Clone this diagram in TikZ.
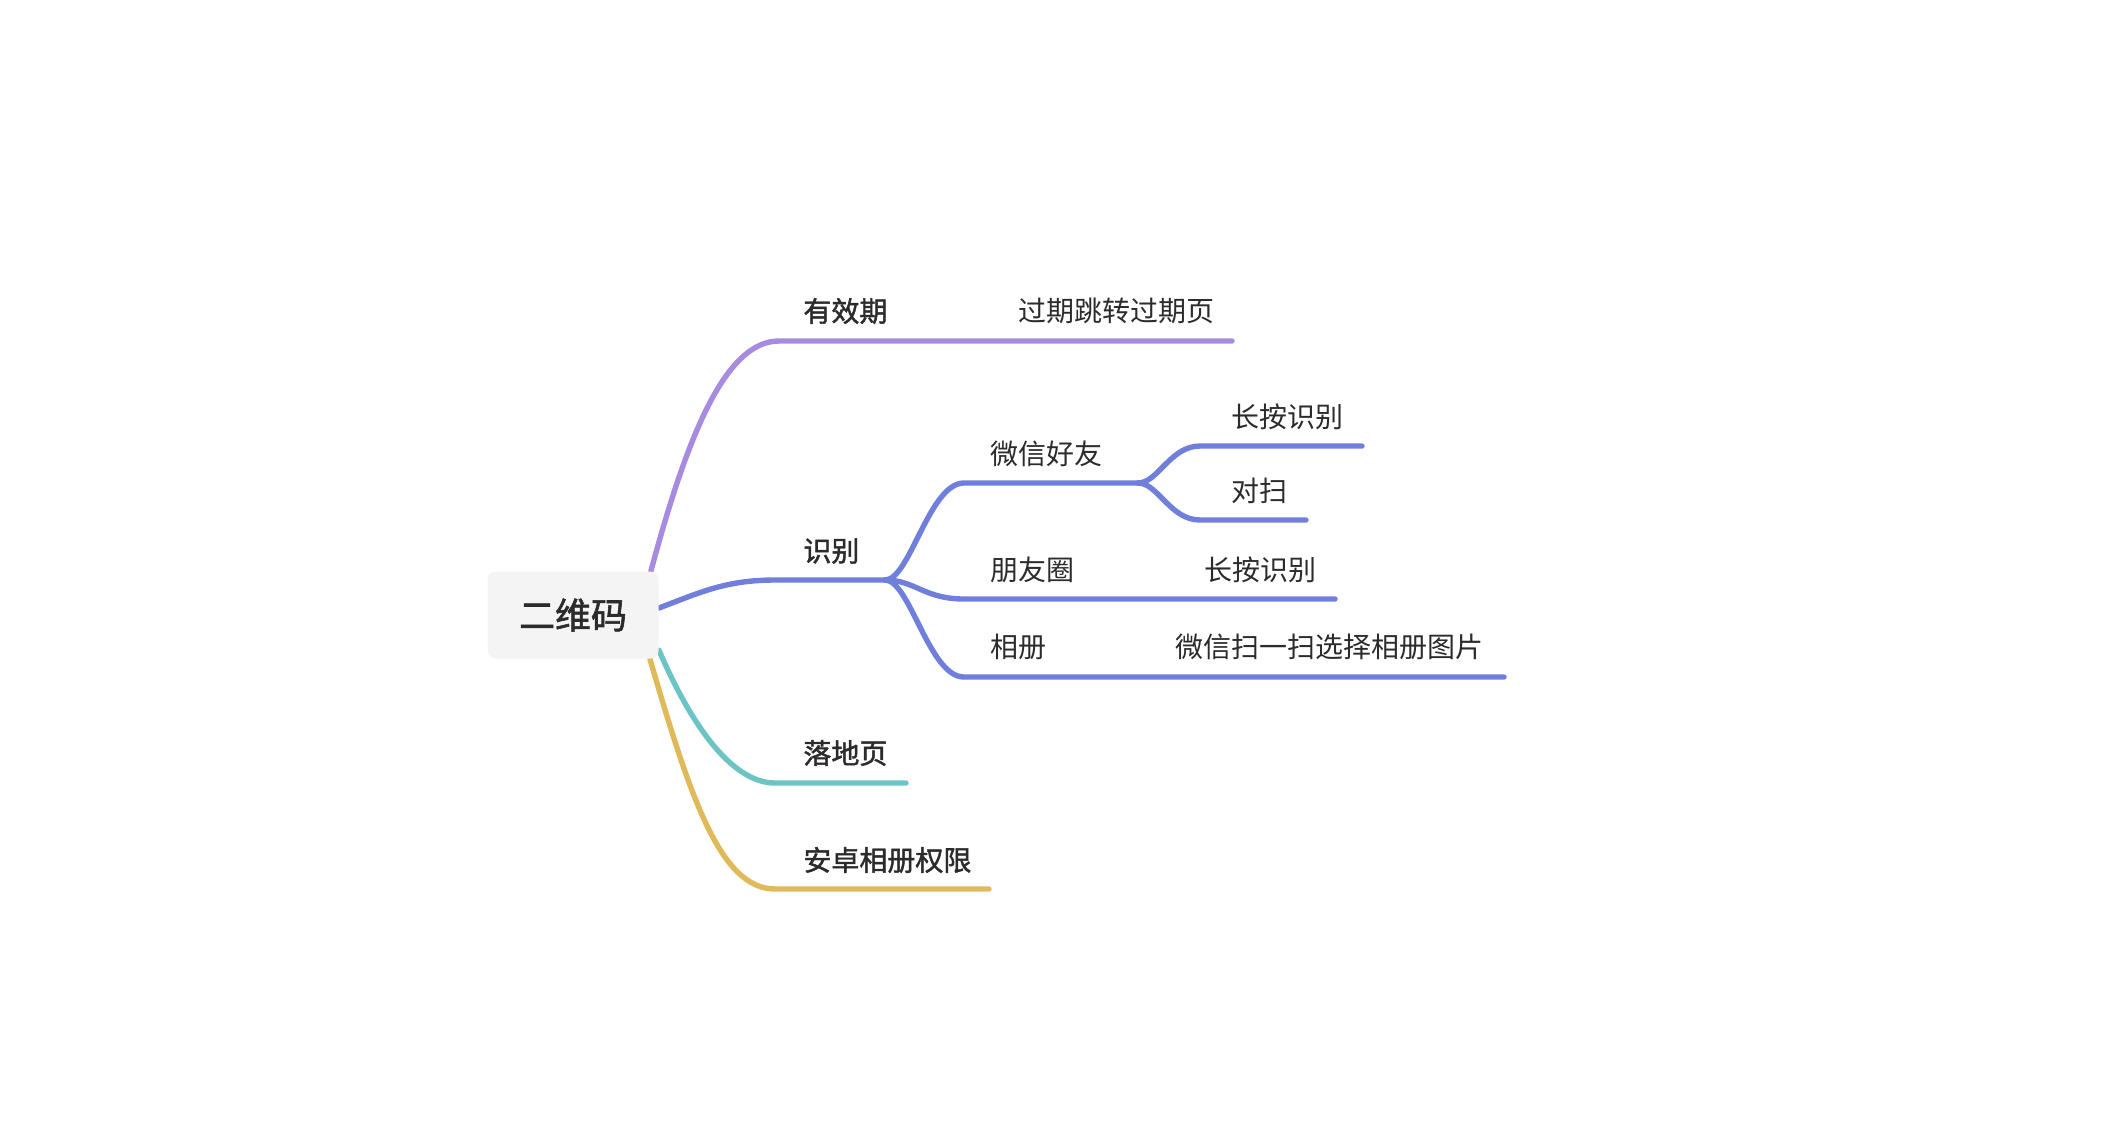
\documentclass[tikz,border=0pt]{standalone}
\usepackage{fontspec}
\setmainfont{Noto Sans CJK SC}
\newfontfamily\medfont{Noto Sans CJK SC}[FakeBold=1.6]
\usepackage{xcolor}
\usepackage{tikz}
\usetikzlibrary{backgrounds}

\definecolor{ink}{HTML}{2B2B2B}
\definecolor{rootgray}{HTML}{F4F4F4}
\definecolor{lnpurple}{HTML}{A78BE0}
\definecolor{lnblue}{HTML}{6F7FDB}
\definecolor{lnteal}{HTML}{6CC4C4}
\definecolor{lngold}{HTML}{E0B95A}

\begin{document}
\begin{tikzpicture}[
  x=0.5pt, y=-0.5pt,
  root/.style={fill=rootgray, rounded corners=4pt, inner sep=0pt, minimum width=85.5pt, minimum height=43.5pt, text=ink, font=\medfont\fontsize{18pt}{20pt}\selectfont},
  topic/.style={anchor=west, inner sep=0pt, text=ink, font=\medfont\fontsize{14pt}{16pt}\selectfont},
  leaf/.style={anchor=west, inner sep=0pt, text=ink, font=\fontsize{14pt}{16pt}\selectfont},
  branch/.style={line width=2.7pt, line cap=round}
]
\useasboundingbox (0,0) rectangle (2114,1142);

\node[root] (qr) at (573,615) {二维码};

\coordinate (valid) at (779,341);
\coordinate (validEnd) at (1232,341);
\coordinate (recog) at (775,580);
\coordinate (fork) at (885,580);
\coordinate (friend) at (964,483);
\coordinate (friendEnd) at (1138,483);
\coordinate (press) at (1200,446);
\coordinate (pressEnd) at (1362,446);
\coordinate (face) at (1200,520);
\coordinate (faceEnd) at (1306,520);
\coordinate (moments) at (964,599);
\coordinate (momentsEnd) at (1335,599);
\coordinate (album) at (964,677);
\coordinate (albumEnd) at (1504,677);
\coordinate (landing) at (775,783);
\coordinate (landingEnd) at (906,783);
\coordinate (perm) at (775,889);
\coordinate (permEnd) at (989,889);

\node[topic] (validT) at (803,311) {有效期};
\node[leaf] (expire) at (1018,311) {过期跳转过期页};
\node[topic] (recogT) at (803,551) {识别};
\node[leaf] (friendT) at (990,454) {微信好友};
\node[leaf] (pressT) at (1231,417) {长按识别};
\node[leaf] (faceT) at (1231,491) {对扫};
\node[leaf] (momentsT) at (990,570) {朋友圈};
\node[leaf] (pressM) at (1204,570) {长按识别};
\node[leaf] (albumT) at (990,647) {相册};
\node[leaf] (albumPick) at (1175,647) {微信扫一扫选择相册图片};
\node[topic] (landingT) at (803,753) {落地页};
\node[topic] (permT) at (803,860) {安卓相册权限};

\begin{scope}[on background layer]
\draw[branch, lnpurple] ([xshift=-4pt]qr.north east) .. controls +(35,-130) and +(-55,0) .. (valid) -- (validEnd);
\draw[branch, lnblue] ([yshift=3.5pt]qr.east) .. controls +(40,-15) and +(-50,0) .. (recog) -- (fork);
\draw[branch, lnblue] (fork) .. controls +(25,0) and +(-35,0) .. (friend) -- (friendEnd);
\draw[branch, lnblue] (friendEnd) .. controls +(20,0) and +(-30,0) .. (press) -- (pressEnd);
\draw[branch, lnblue] (friendEnd) .. controls +(20,0) and +(-30,0) .. (face) -- (faceEnd);
\draw[branch, lnblue] (fork) .. controls +(30,0) and +(-40,0) .. (moments) -- (momentsEnd);
\draw[branch, lnblue] (fork) .. controls +(25,0) and +(-35,0) .. (album) -- (albumEnd);
\draw[branch, lnteal] ([yshift=-17.5pt]qr.east) .. controls +(30,70) and +(-45,0) .. (landing) -- (landingEnd);
\draw[branch, lngold] ([xshift=-4.5pt]qr.south east) .. controls +(40,137) and +(-55,0) .. (perm) -- (permEnd);
\end{scope}
\end{tikzpicture}
\end{document}
